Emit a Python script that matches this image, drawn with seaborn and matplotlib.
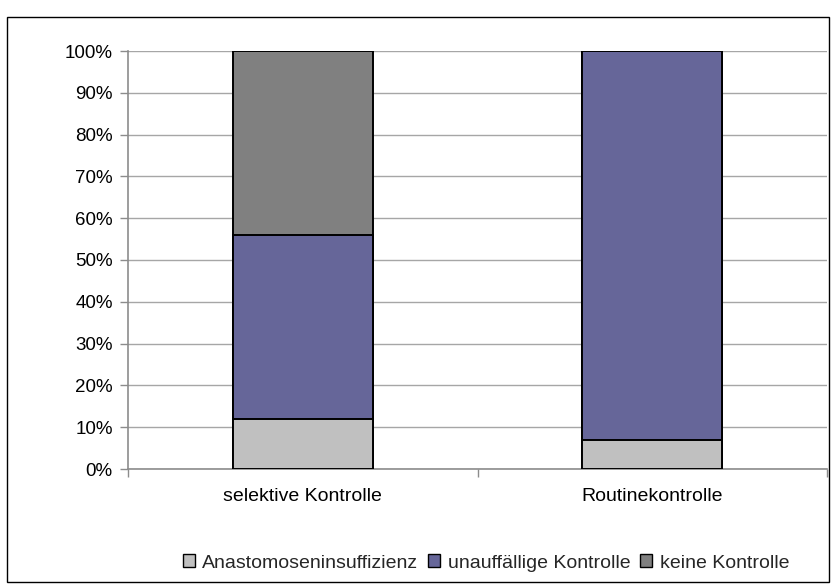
import matplotlib
matplotlib.use("Agg")
import matplotlib.pyplot as plt
from matplotlib.patches import Patch, Rectangle
from matplotlib.ticker import PercentFormatter, FixedLocator
import seaborn as sns
import pandas as pd

# Shares per control strategy (percent)
categories = ["selektive Kontrolle", "Routinekontrolle"]
anastomosen = [12, 7]
unauffaellig = [44, 93]
keine = [44, 0]
series_names = ["Anastomoseninsuffizienz", "unauffällige Kontrolle", "keine Kontrolle"]
colors = ["#C0C0C0", "#666699", "#808080"]

sns.set_style("white")
plt.rcParams["font.family"] = ["Liberation Sans", "DejaVu Sans"]

df = pd.DataFrame({"Kategorie": categories,
                   "a": anastomosen, "u": unauffaellig, "k": keine})
# cumulative tops for stacking
df["top_a"] = df["a"]
df["top_u"] = df["a"] + df["u"]
df["top_k"] = df["a"] + df["u"] + df["k"]

fig = plt.figure(figsize=(8.31, 5.84), dpi=100)
ax = fig.add_axes([128 / 831, 1 - 469 / 584, (827 - 128) / 831, (469 - 51) / 584])

# Draw tallest segment first so lower segments sit on top
for col, color in zip(["top_k", "top_u", "top_a"], colors[::-1]):
    sns.barplot(data=df, x="Kategorie", y=col, color=color, width=0.4,
                edgecolor="black", linewidth=1.4, saturation=1, ax=ax,
                order=categories, errorbar=None, zorder=3)

ax.set_ylim(0, 100)
ax.set_xlim(-0.5, 1.5)
ax.yaxis.set_major_locator(FixedLocator(range(0, 101, 10)))
ax.yaxis.set_major_formatter(PercentFormatter(decimals=0))
ax.grid(axis="y", color="#A6A6A6", linewidth=1, zorder=0)
ax.set_axisbelow(True)
ax.set_xlabel("")
ax.set_ylabel("")

for side in ["top", "right"]:
    ax.spines[side].set_visible(False)
for side in ["left", "bottom"]:
    ax.spines[side].set_color("#8C8C8C")
    ax.spines[side].set_linewidth(1.2)

ax.tick_params(axis="y", which="major", length=6, color="#8C8C8C", width=1,
               left=True, labelsize=13.5, pad=5, labelcolor="black")
# x ticks at category boundaries, labels centered under bars
ax.set_xticks([-0.5, 0.5, 1.5])
ax.set_xticklabels([])
ax.set_xticks([0, 1], minor=True)
ax.set_xticklabels(categories, minor=True)
ax.tick_params(axis="x", which="major", length=6, color="#8C8C8C", width=1, bottom=True)
ax.tick_params(axis="x", which="minor", length=0, labelsize=14, pad=14, labelcolor="black")

handles = [Patch(facecolor=c, edgecolor="black", linewidth=1) for c in colors]
fig.legend(handles, series_names, loc="center", bbox_to_anchor=(486 / 831, 1 - 563 / 584),
           ncol=3, frameon=False, fontsize=14, handlelength=0.6, handleheight=0.6,
           handletextpad=0.4, columnspacing=0.5, borderaxespad=0)

# figure border
fig.patches.append(Rectangle((7 / 831, 2 / 584), 822 / 831, 1 - 17 / 584 - 2 / 584,
                             transform=fig.transFigure, fill=False,
                             edgecolor="black", linewidth=1))

fig.savefig("out.png", dpi=100)
